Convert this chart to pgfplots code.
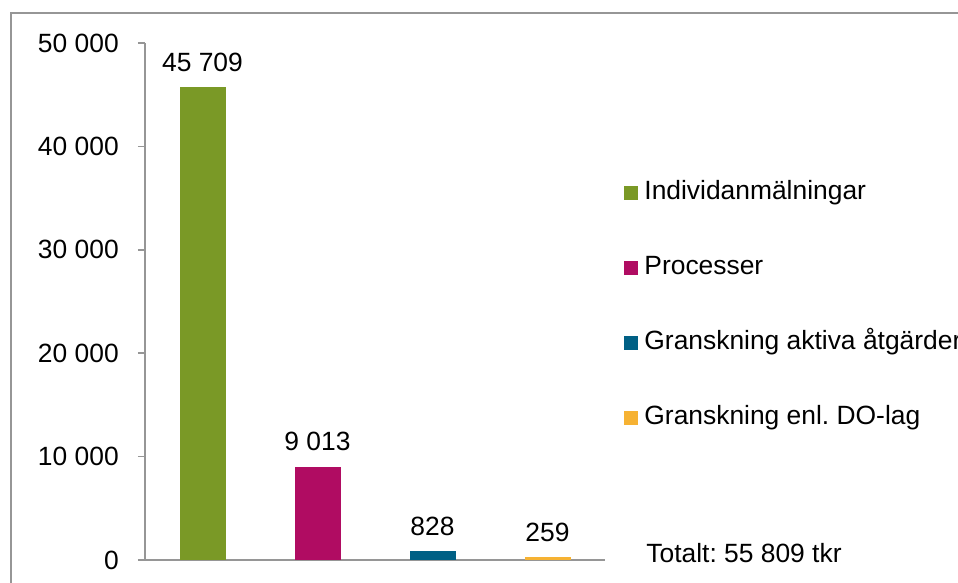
\documentclass[border=0pt]{standalone}
\usepackage{fontspec}
\setmainfont{Liberation Sans}
\usepackage{pgfplots}
\pgfplotsset{compat=1.18}
\definecolor{cgreen}{RGB}{122,153,38}
\definecolor{cmag}{RGB}{176,12,98}
\definecolor{cblue}{RGB}{0,96,133}
\definecolor{corange}{RGB}{246,178,51}
\definecolor{axgray}{RGB}{150,150,150}
\frenchspacing
\begin{document}
\begin{tikzpicture}[font=\fontsize{13.2}{15.8}\selectfont]
\useasboundingbox (0,0) rectangle (479pt,291.5pt);
\clip (0,0) rectangle (479pt,291.5pt);
\draw[draw=axgray, line width=0.7pt] (5.5pt,-20pt) rectangle (520pt,285pt);
\begin{axis}[
  at={(72.5pt,11.5pt)}, anchor=south west,
  scale only axis, width=230pt, height=258.5pt,
  xmin=0.5, xmax=4.5, ymin=0, ymax=50000,
  axis x line*=bottom, axis y line*=left,
  axis line style={-, draw=axgray, line width=0.9pt},
  xtick=\empty,
  ytick={0,10000,20000,30000,40000,50000},
  yticklabels={0,10 000,20 000,30 000,40 000,50 000},
  scaled y ticks=false,
  tick align=outside, major tick length=3.5pt,
  tick style={draw=axgray, line width=0.8pt},
  yticklabel style={xshift=-6.1pt},
  /pgf/number format/assume math mode=true,
  ybar, bar width=23pt, bar shift=0pt,
  point meta=explicit symbolic,
  nodes near coords,
  nodes near coords style={anchor=south, inner sep=0pt, yshift=7.75pt, text=black},
  legend style={at={(1.0283,0.742)}, anchor=north west, draw=none, fill=none,
    row sep=25pt, nodes={inner sep=0pt, text height=9.5pt, text depth=3pt},
    /tikz/every odd column/.append style={column sep=3pt}},
  legend cell align=left,
  legend image code/.code={\fill[#1] (0pt,-3.5pt) rectangle (7pt,3.5pt);},
]
\addplot[fill=cgreen, draw=none] coordinates {(1,45709) [45 709]};
\addplot[fill=cmag, draw=none] coordinates {(2,9013) [9 013]};
\addplot[fill=cblue, draw=none] coordinates {(3,828) [828]};
\addplot[fill=corange, draw=none] coordinates {(4,259) [259]};
\legend{Individanmälningar,Processer,Granskning aktiva åtgärder,Granskning enl. DO-lag}
\end{axis}
\node[anchor=base west, inner sep=0pt] at (323pt,10pt) {Totalt: 55 809 tkr};
\end{tikzpicture}
\end{document}
